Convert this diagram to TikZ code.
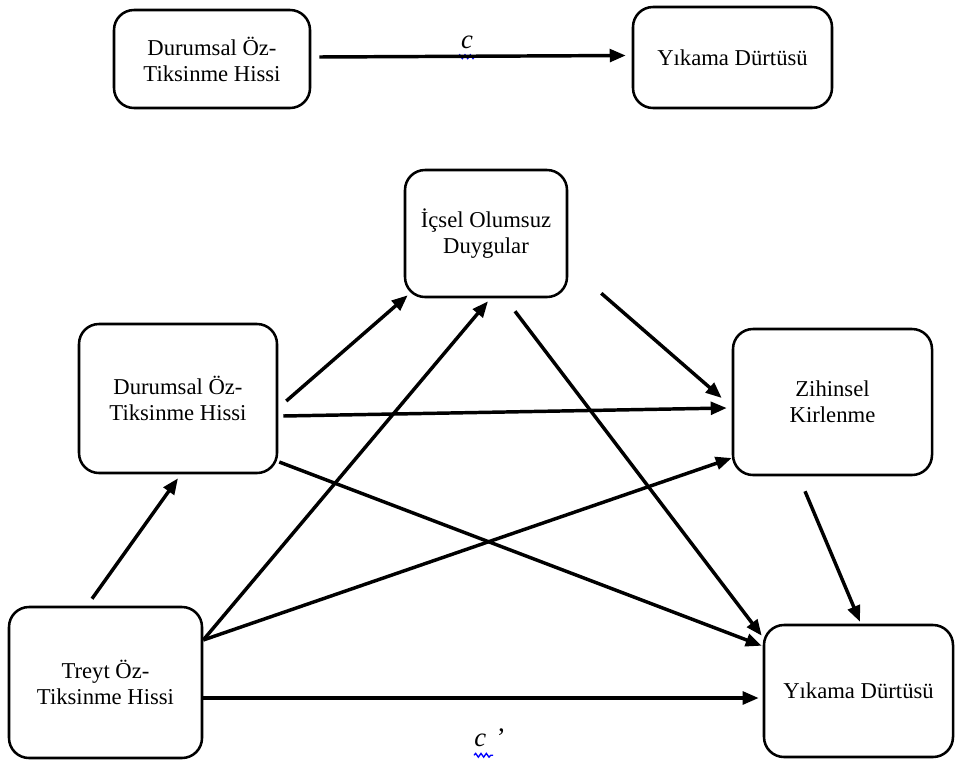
\documentclass[tikz,border=0pt]{standalone}
\usepackage{fontspec}
\setmainfont{Liberation Serif}
\usetikzlibrary{arrows.meta,calc,decorations.pathmorphing}
\begin{document}
\begin{tikzpicture}[x=0.75pt,y=-0.75pt,
  box/.style={draw=black,line width=1.9pt,rounded corners=15pt,fill=white,
    align=center,inner sep=0pt,font=\fontsize{17}{19.5}\selectfont},
  conn/.style={line width=2.6pt,-{Triangle[length=12pt,width=9.5pt]}},
  squig/.style={draw=blue,line width=1pt,decorate,
    decoration={snake,segment length=4pt,amplitude=1.4pt}},
  lbl/.style={font=\fontsize{20}{22}\selectfont}]
\useasboundingbox (0,0) rectangle (955,760);
% top model
\node[box,minimum width=147pt,minimum height=73.5pt] (A) at (212,59) {Durumsal Öz-\\Tiksinme Hissi};
\node[box,minimum width=149.25pt,minimum height=75.75pt] (B) at (732.5,57.5) {Yıkama Dürtüsü};
% bottom model
\node[box,minimum width=121.5pt,minimum height=95.25pt] (I) at (486,233.5) {İçsel Olumsuz\\Duygular};
\node[box,minimum width=148.5pt,minimum height=111.75pt] (D) at (178,398.5) {Durumsal Öz-\\Tiksinme Hissi};
\node[box,minimum width=149.25pt,minimum height=109.5pt] (Z) at (832.5,402) {Zihinsel\\Kirlenme};
\node[box,minimum width=144.75pt,minimum height=113.25pt] (T) at (105.5,682.5) {Treyt Öz-\\Tiksinme Hissi};
\node[box,minimum width=141.75pt,minimum height=99pt] (Y) at (858.5,691) {Yıkama Dürtüsü};
% labels
\node[lbl,inner sep=0pt] (c) at (467,42) {\textit{c}};
\node[lbl,inner sep=0pt,anchor=west] (cp) at (474,738) {\textit{c}\hspace{0.4em}’};
\draw[squig] ([shift={(-9,8)}]c.south) -- ([shift={(10,8)}]c.south);
\draw[squig] ([shift={(0,8)}]cp.south west) -- ([shift={(19,8)}]cp.south west);
% connectors
\draw[conn] ([shift={(8,-2)}]A.east) -- ([shift={(-6,-2)}]B.west);
\draw[conn] ([shift={(8,2.5)}]D.east) -- ([shift={(4,-3)}]I.south west);
\draw[conn] ([shift={(5,17.5)}]D.east) -- ([shift={(-5,6)}]Z.west);
\draw[conn] ([shift={(1,63.5)}]D.east) -- ([shift={(-1,22)}]Y.north west);
\draw[conn] ([shift={(33,-5)}]I.south east) -- ([shift={(-10,-4)}]Z.west);
\draw[conn] ([shift={(29,13)}]I.south) -- ([shift={(-1,12)}]Y.north west);
\draw[conn] ([shift={(0,-42.5)}]T.east) -- ([shift={(2,3)}]I.south);
\draw[conn] ([shift={(0,-42.5)}]T.east) -- ([shift={(0,56)}]Z.west);
\draw[conn] ([shift={(-13.5,-7)}]T.north) -- ([shift={(0,4)}]D.south);
\draw[conn] ([shift={(0,15.5)}]T.east) -- ([shift={(-4,7)}]Y.west);
\draw[conn] ([shift={(-27.5,15)}]Z.south) -- ([shift={(1.5,-2)}]Y.north);
\end{tikzpicture}
\end{document}
